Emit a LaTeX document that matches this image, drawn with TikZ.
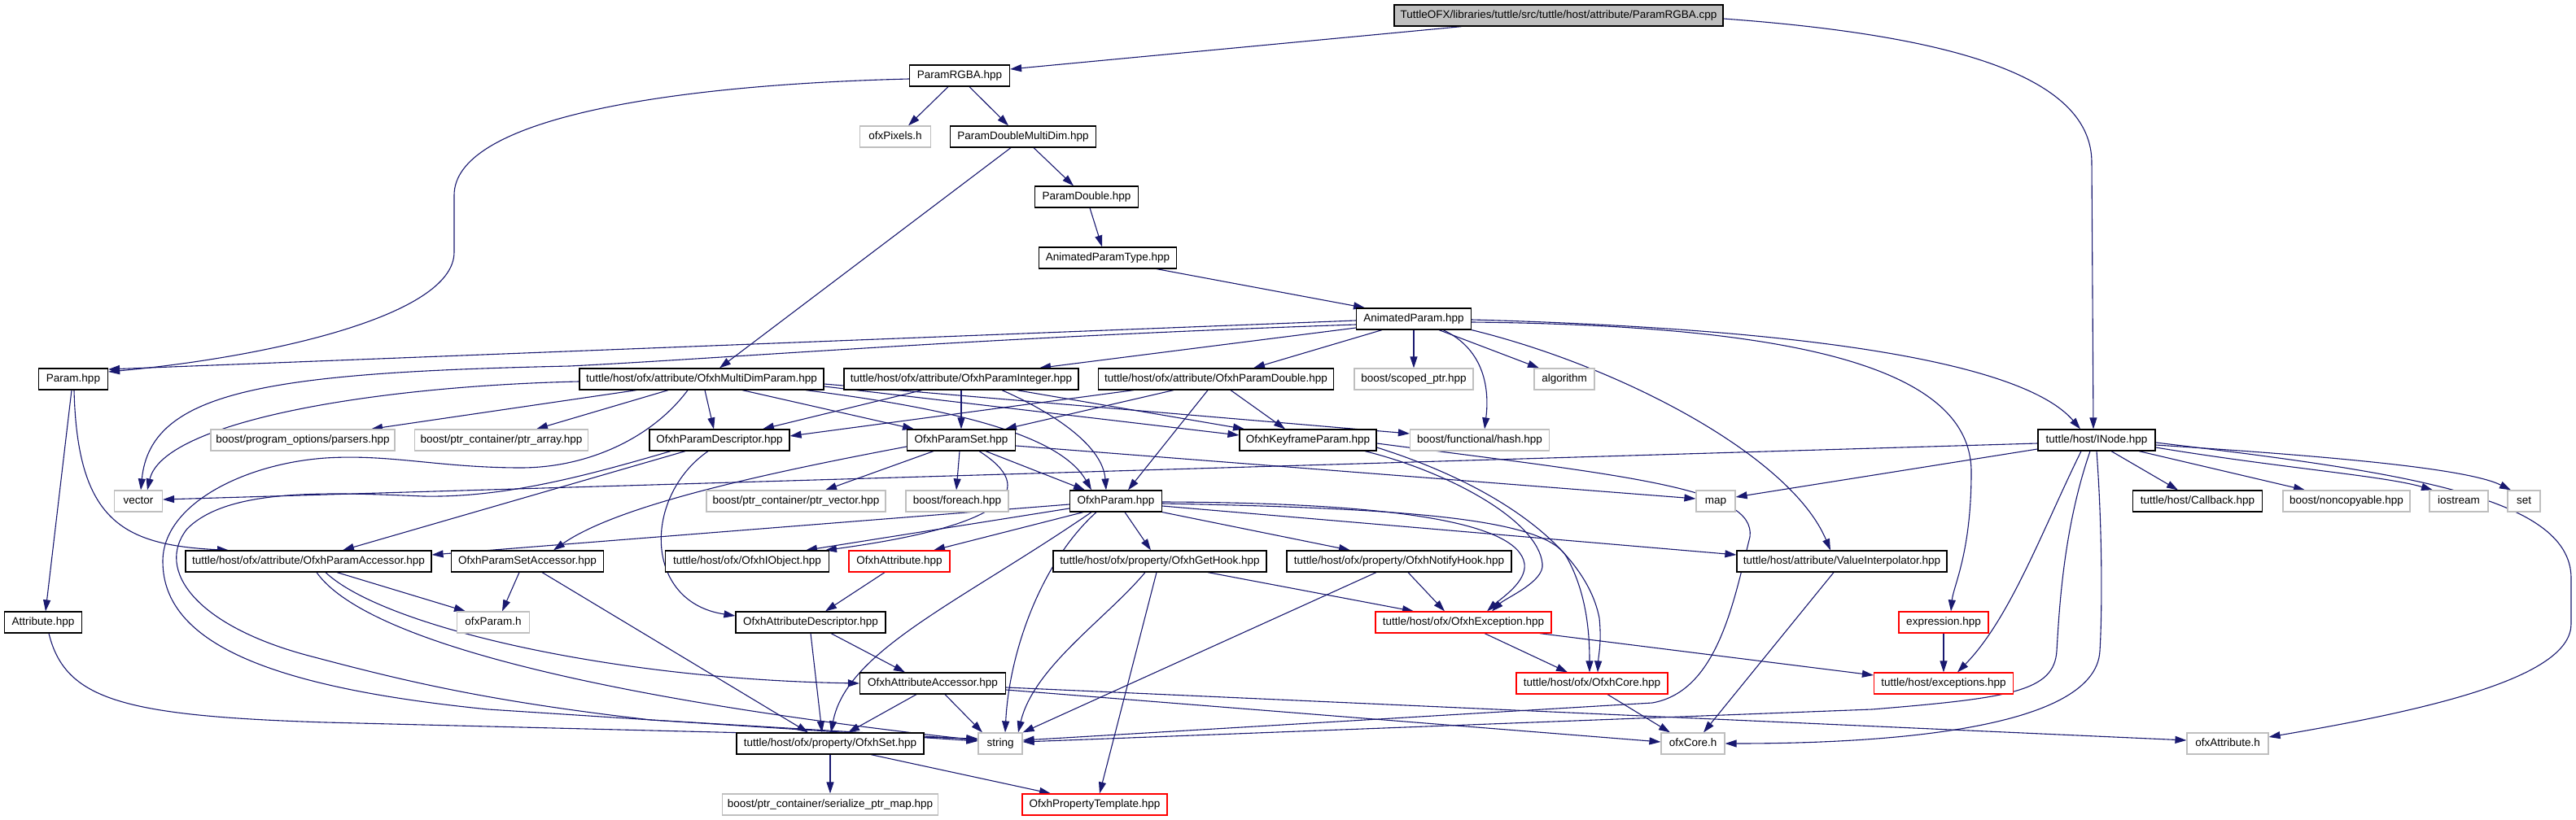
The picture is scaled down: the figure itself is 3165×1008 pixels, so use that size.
\documentclass[tikz,border=0pt]{standalone}
\usepackage{fontspec}
\setmainfont{Liberation Sans}
\usetikzlibrary{arrows.meta}
\definecolor{edgeblue}{HTML}{191970}
\definecolor{lgray}{HTML}{BFBFBF}
\definecolor{rootgray}{HTML}{BFBFBF}
\definecolor{rdc}{HTML}{FF0000}
\pgfdeclarelayer{bg}
\pgfsetlayers{bg,main}
\begin{document}
\begin{tikzpicture}[x=1pt,y=-1pt,
  nd/.style={rectangle, line width=1.2pt, fill=white, minimum height=26pt, inner sep=0pt, font=\fontsize{13.5}{16}\selectfont, text height=10pt, text depth=3pt},
  bk/.style={nd, draw=black},
  gr/.style={nd, draw=lgray},
  rd/.style={nd, draw=rdc},
  e/.style={draw=edgeblue, line width=1.1pt, -{Triangle[length=14pt,width=9pt]}}]
\useasboundingbox (0,0) rectangle (3165,1008);
% nodes
\node[bk,fill=rootgray,minimum width=404pt] (root) at (1915,19) {TuttleOFX/libraries/tuttle/src/tuttle/host/attribute/ParamRGBA.cpp};
\node[bk,minimum width=123pt] (prgba) at (1179,93) {ParamRGBA.hpp};
\node[gr,minimum width=87pt] (pixels) at (1100,168) {ofxPixels.h};
\node[bk,minimum width=179pt] (pdmd) at (1257,168) {ParamDoubleMultiDim.hpp};
\node[bk,minimum width=127pt] (pdbl) at (1335,242) {ParamDouble.hpp};
\node[bk,minimum width=169pt] (apt) at (1361,317) {AnimatedParamType.hpp};
\node[bk,minimum width=141pt] (ap) at (1737,392) {AnimatedParam.hpp};
\node[bk,minimum width=85pt] (param) at (90,466) {Param.hpp};
\node[bk,minimum width=300pt] (mdp) at (862,466) {tuttle/host/ofx/attribute/OfxhMultiDimParam.hpp};
\node[bk,minimum width=288pt] (pint) at (1181,466) {tuttle/host/ofx/attribute/OfxhParamInteger.hpp};
\node[bk,minimum width=289pt] (pdblx) at (1494,466) {tuttle/host/ofx/attribute/OfxhParamDouble.hpp};
\node[gr,minimum width=146pt] (scoped) at (1737,466) {boost/scoped\_ptr.hpp};
\node[gr,minimum width=74pt] (algo) at (1922,466) {algorithm};
\node[gr,minimum width=226pt] (parsers) at (372,541) {boost/program\_options/parsers.hpp};
\node[gr,minimum width=213pt] (ptrarr) at (616,541) {boost/ptr\_container/ptr\_array.hpp};
\node[bk,minimum width=172pt] (pdesc) at (884,541) {OfxhParamDescriptor.hpp};
\node[bk,minimum width=133pt] (pset) at (1181,541) {OfxhParamSet.hpp};
\node[bk,minimum width=168pt] (kf) at (1607,541) {OfxhKeyframeParam.hpp};
\node[gr,minimum width=171pt] (hash) at (1818,541) {boost/functional/hash.hpp};
\node[bk,minimum width=144pt] (inode) at (2576,541) {tuttle/host/INode.hpp};
\node[gr,minimum width=59pt] (vector) at (170,616) {vector};
\node[gr,minimum width=220pt] (ptrvec) at (978,616) {boost/ptr\_container/ptr\_vector.hpp};
\node[gr,minimum width=126pt] (foreach) at (1176,616) {boost/foreach.hpp};
\node[bk,minimum width=113pt] (oparam) at (1371,616) {OfxhParam.hpp};
\node[gr,minimum width=48pt] (map) at (2108,616) {map};
\node[bk,minimum width=159pt] (callback) at (2700,616) {tuttle/host/Callback.hpp};
\node[gr,minimum width=156pt] (noncopy) at (2883,616) {boost/noncopyable.hpp};
\node[gr,minimum width=72pt] (iostream) at (3021,616) {iostream};
\node[gr,minimum width=40pt] (set) at (3101,616) {set};
\node[bk,minimum width=302pt] (pacc) at (379,690) {tuttle/host/ofx/attribute/OfxhParamAccessor.hpp};
\node[bk,minimum width=187pt] (psacc) at (648,690) {OfxhParamSetAccessor.hpp};
\node[bk,minimum width=201pt] (iobj) at (918,690) {tuttle/host/ofx/OfxhIObject.hpp};
\node[rd,minimum width=124pt] (attr) at (1105,690) {OfxhAttribute.hpp};
\node[bk,minimum width=262pt] (gethook) at (1425,690) {tuttle/host/ofx/property/OfxhGetHook.hpp};
\node[bk,minimum width=276pt] (notify) at (1719,690) {tuttle/host/ofx/property/OfxhNotifyHook.hpp};
\node[bk,minimum width=258pt] (vinterp) at (2263,690) {tuttle/host/attribute/ValueInterpolator.hpp};
\node[bk,minimum width=95pt] (attribute) at (53,765) {Attribute.hpp};
\node[gr,minimum width=89pt] (ofxparam) at (606,765) {ofxParam.h};
\node[bk,minimum width=184pt] (adesc) at (996,765) {OfxhAttributeDescriptor.hpp};
\node[rd,minimum width=216pt] (exc) at (1798,765) {tuttle/host/ofx/OfxhException.hpp};
\node[rd,minimum width=110pt] (expr) at (2388,765) {expression.hpp};
\node[bk,minimum width=179pt] (aacc) at (1146,840) {OfxhAttributeAccessor.hpp};
\node[rd,minimum width=186pt] (core) at (1956,840) {tuttle/host/ofx/OfxhCore.hpp};
\node[rd,minimum width=171pt] (exceptions) at (2388,840) {tuttle/host/exceptions.hpp};
\node[bk,minimum width=230pt] (oset) at (1020,914) {tuttle/host/ofx/property/OfxhSet.hpp};
\node[gr,minimum width=54pt] (string) at (1229,914) {string};
\node[gr,minimum width=78pt] (ofxcore) at (2080,914) {ofxCore.h};
\node[gr,minimum width=100pt] (ofxattr) at (2737,914) {ofxAttribute.h};
\node[gr,minimum width=265pt] (serial) at (1020,989) {boost/ptr\_container/serialize\_ptr\_map.hpp};
\node[rd,minimum width=178pt] (ptempl) at (1345,989) {OfxhPropertyTemplate.hpp};
\begin{pgfonlayer}{bg}
\fill[white] (0,0) rectangle (3165,1008);
% root
\draw[e] ([xshift=-119pt]root.south) -- ([yshift=8pt]prgba.east);
\draw[e] ([yshift=-4pt]root.east) .. controls (2420,45) and (2570,100) .. (2570,200) -- ([xshift=-4pt]inode.north);
% ParamRGBA
\draw[e] ([xshift=-14pt]prgba.south) -- ([xshift=16pt]pixels.north);
\draw[e] ([xshift=12pt]prgba.south) -- ([xshift=-18pt]pdmd.north);
\draw[e] ([yshift=-4pt]prgba.west) .. controls (800,105) and (558,150) .. (558,240) -- (558,310) .. controls (558,390) and (320,440) .. ([yshift=9pt]param.east);
% ParamDoubleMultiDim, ParamDouble, AnimatedParamType
\draw[e] ([xshift=13pt]pdmd.south) -- ([xshift=-16pt]pdbl.north);
\draw[e] ([xshift=-15pt]pdmd.south) -- ([xshift=22pt]mdp.north);
\draw[e] ([xshift=4pt]pdbl.south) -- ([xshift=-7pt]apt.north);
\draw[e] ([xshift=60pt]apt.south) -- ([xshift=-60pt]ap.north);
% AnimatedParam
\draw[e] ([yshift=-2pt]ap.west) -- ([yshift=12pt]param.east);
\draw[e] ([yshift=-7pt]ap.west) .. controls (1200,415) and (900,440) .. (700,450) .. controls (330,458) and (185,480) .. ([xshift=3pt]vector.north);
\draw[e] ([yshift=-11pt]ap.west) -- ([xshift=96pt]pint.north);
\draw[e] ([xshift=-39pt]ap.south) -- ([xshift=46pt]pdblx.north);
\draw[e] (ap.south) -- (scoped.north);
\draw[e] ([xshift=31pt]ap.south) -- ([xshift=-31pt]algo.north);
\draw[e] ([xshift=36pt]ap.south) .. controls (1825,430) and (1830,480) .. ([xshift=6pt]hash.north);
\draw[e] ([yshift=-1pt]ap.east) .. controls (2250,405) and (2490,450) .. ([xshift=-20pt]inode.north);
\draw[e] ([yshift=-4pt]ap.east) .. controls (2200,400) and (2422,450) .. (2422,580) .. controls (2422,680) and (2400,720) .. ([xshift=9pt]expr.north);
\draw[e] (ap.south east) .. controls (1990,450) and (2200,560) .. ([xshift=-14pt]vinterp.north);
% Param
\draw[e] ([xshift=-2pt]param.south) -- ([xshift=3pt]attribute.north);
\draw[e] ([xshift=1pt]param.south) .. controls (95,640) and (150,670) .. ([xshift=-98pt]pacc.north);
% OfxhMultiDimParam
\draw[e] ([yshift=-3pt]mdp.west) .. controls (450,475) and (200,520) .. ([xshift=11pt]vector.north);
\draw[e] ([xshift=-80pt]mdp.south) -- ([xshift=84pt]parsers.north);
\draw[e] ([xshift=-41pt]mdp.south) -- ([xshift=43pt]ptrarr.north);
\draw[e] ([xshift=4pt]mdp.south) -- ([xshift=-7pt]pdesc.north);
\draw[e] ([xshift=50pt]mdp.south) -- ([xshift=-58pt]pset.north);
\draw[e] ([yshift=-9pt]mdp.east) -- ([yshift=6pt]kf.west);
\draw[e] ([yshift=-6pt]mdp.east) -- ([yshift=8pt]hash.west);
\draw[e] ([xshift=128pt]mdp.south) .. controls (1150,500) and (1300,530) .. ([xshift=-30pt]oparam.north);
\draw[e] ([xshift=-17pt]mdp.south) .. controls (800,540) and (720,575) .. (640,575) .. controls (540,575) and (480,558) .. (400,563) .. controls (300,570) and (200,620) .. (200,690) .. controls (200,790) and (330,845) .. (600,872) -- ([yshift=3pt]string.west);
% OfxhParamInteger
\draw[e] ([xshift=-48pt]pint.south) -- ([xshift=53pt]pdesc.north);
\draw[e] (pint.south) -- (pset.north);
\draw[e] ([xshift=50pt]pint.south) .. controls (1300,510) and (1355,550) .. ([xshift=-12pt]oparam.north);
\draw[e] ([xshift=68pt]pint.south) -- ([xshift=-78pt]kf.north);
% OfxhParamDouble
\draw[e] ([xshift=-101pt]pdblx.south) -- ([yshift=5pt]pdesc.east);
\draw[e] ([xshift=-52pt]pdblx.south) -- ([xshift=54pt]pset.north);
\draw[e] ([xshift=-10pt]pdblx.south) -- ([xshift=15pt]oparam.north);
\draw[e] ([xshift=18pt]pdblx.south) -- ([xshift=-28pt]kf.north);
% OfxhParamDescriptor
\draw[e] ([xshift=-42pt]pdesc.south) -- ([xshift=42pt]pacc.north);
\draw[e] ([xshift=-14pt]pdesc.south) .. controls (790,610) and (790,740) .. ([yshift=8pt]adesc.west);
\draw[e] ([xshift=-60pt]pdesc.south) .. controls (720,585) and (620,612) .. (520,610) .. controls (400,605) and (280,600) .. (230,650) .. controls (190,700) and (240,770) .. (383,807) .. controls (500,838) and (600,862) .. (800,885) -- ([yshift=5pt]string.west);
% OfxhParamSet
\draw[e] ([yshift=-8pt]pset.west) .. controls (950,580) and (760,620) .. ([xshift=32pt]psacc.north);
\draw[e] ([xshift=-34pt]pset.south) -- ([xshift=36pt]ptrvec.north);
\draw[e] ([xshift=-2pt]pset.south) -- ([xshift=-1pt]foreach.north);
\draw[e] ([xshift=30pt]pset.south) -- ([xshift=-38pt]oparam.north);
\draw[e] ([yshift=-7pt]pset.east) -- ([yshift=3pt]map.west);
\draw[e] ([xshift=22pt]pset.south) .. controls (1275,600) and (1245,645) .. ([xshift=96pt]iobj.north);
% OfxhKeyframeParam
\draw[e] ([xshift=70pt]kf.south) .. controls (1780,580) and (1890,640) .. (1895,693) .. controls (1898,715) and (1850,735) .. ([xshift=35pt]exc.north);
\draw[e] ([yshift=-9pt]kf.east) .. controls (1850,600) and (1950,680) .. (1965,760) .. controls (1968,790) and (1964,805) .. ([xshift=7pt]core.north);
\draw[e] ([yshift=-4pt]kf.east) .. controls (2000,585) and (2158,600) .. (2150,660) .. controls (2130,740) and (2110,850) .. (2030,864) -- ([yshift=4pt]string.east);
% OfxhParam
\draw[e] ([yshift=-4pt]oparam.west) -- ([yshift=8pt]pacc.east);
\draw[e] ([yshift=-9pt]oparam.west) -- ([xshift=72pt]iobj.north);
\draw[e] ([xshift=-40pt]oparam.south) -- ([xshift=42pt]attr.north);
\draw[e] ([xshift=11pt]oparam.south) -- ([xshift=-11pt]gethook.north);
\draw[e] (oparam.south east) -- ([xshift=-60pt]notify.north);
\draw[e] ([yshift=-6pt]oparam.east) -- ([yshift=8pt]vinterp.west);
\draw[e] ([yshift=-1pt]oparam.east) .. controls (1700,618) and (1865,640) .. (1873,693) .. controls (1876,715) and (1845,735) .. ([xshift=29pt]exc.north);
\draw[e] ([yshift=-3pt]oparam.east) .. controls (1750,625) and (1900,640) .. (1925,685) .. controls (1950,730) and (1953,780) .. ([xshift=-3pt]core.north);
\draw[e] ([xshift=-24pt]oparam.south) .. controls (1280,690) and (1240,800) .. ([xshift=6pt]string.north);
\draw[e] ([xshift=-30pt]oparam.south) .. controls (1180,740) and (1040,800) .. ([xshift=1pt]oset.north);
% INode
\draw[e] ([yshift=-4pt]inode.west) -- ([yshift=2pt]vector.east);
\draw[e] ([yshift=-11pt]inode.west) -- ([yshift=5pt]map.east);
\draw[e] ([xshift=18pt]inode.south) -- ([xshift=-24pt]callback.north);
\draw[e] ([xshift=52pt]inode.south) -- ([xshift=-51pt]noncopy.north);
\draw[e] ([yshift=-9pt]inode.east) .. controls (2800,575) and (2930,585) .. ([xshift=-32pt]iostream.north);
\draw[e] ([yshift=-6pt]inode.east) .. controls (2850,560) and (3030,575) .. ([xshift=-16pt]set.north);
\draw[e] ([yshift=-3pt]inode.east) .. controls (2950,580) and (3158,610) .. (3159,710) -- (3159,767) .. controls (3159,830) and (3000,870) .. ([yshift=8pt]ofxattr.east);
\draw[e] ([xshift=-19pt]inode.south) .. controls (2510,650) and (2470,760) .. ([xshift=17pt]exceptions.north);
\draw[e] ([xshift=-8pt]inode.south) .. controls (2535,650) and (2530,750) .. (2527,800) .. controls (2524,850) and (2470,858) .. (2300,872) -- ([yshift=2pt]string.east);
\draw[e] (inode.south) .. controls (2583,650) and (2583,750) .. (2580,800) .. controls (2575,900) and (2300,914) .. (ofxcore.east);
% ValueInterpolator, expression, OfxhException, OfxhCore
\draw[e] ([xshift=-10pt]vinterp.south) -- ([xshift=13pt]ofxcore.north);
\draw[e] (expr.south) -- (exceptions.north);
\draw[e] ([xshift=26pt]exc.south) -- ([xshift=-30pt]core.north);
\draw[e] ([xshift=-15pt]exc.south east) -- ([yshift=10pt]exceptions.west);
\draw[e] ([xshift=19pt]core.south) -- ([xshift=-28pt]ofxcore.north);
% hooks
\draw[e] ([xshift=-18pt]gethook.south) .. controls (1360,760) and (1270,820) .. ([xshift=22pt]string.north);
\draw[e] ([xshift=-4pt]gethook.south) -- ([xshift=6pt]ptempl.north);
\draw[e] ([xshift=59pt]gethook.south) -- ([xshift=-61pt]exc.north);
\draw[e] ([xshift=-28pt]notify.south) -- (string.north east);
\draw[e] ([xshift=11pt]notify.south) -- ([xshift=-23pt]exc.north);
% attribute accessors / descriptors
\draw[e] ([xshift=15pt]aacc.south) -- ([xshift=-22pt]string.north);
\draw[e] ([xshift=-20pt]aacc.south) -- ([xshift=22pt]oset.north);
\draw[e] ([yshift=-8pt]aacc.east) -- ([yshift=2pt]ofxcore.west);
\draw[e] ([yshift=-5pt]aacc.east) -- ([yshift=4pt]ofxattr.west);
\draw[e] ([xshift=25pt]adesc.south) -- ([xshift=-34pt]aacc.north);
\draw[e] (adesc.south) -- ([xshift=-10pt]oset.north);
\draw[e] ([xshift=-18pt]attr.south) -- ([xshift=18pt]adesc.north);
% ParamAccessor, ParamSetAccessor, Attribute
\draw[e] ([xshift=35pt]pacc.south) -- ([xshift=-34pt]ofxparam.north);
\draw[e] ([xshift=21pt]pacc.south) .. controls (470,770) and (750,835) .. (aacc.west);
\draw[e] ([xshift=10pt]pacc.south) .. controls (450,790) and (750,860) .. ([yshift=4pt]string.west);
\draw[e] ([xshift=-10pt]psacc.south) -- ([xshift=11pt]ofxparam.north);
\draw[e] ([xshift=18pt]psacc.south) -- ([xshift=-27pt]oset.north);
\draw[e] ([xshift=7pt]attribute.south) .. controls (80,860) and (150,880) .. (400,888) -- ([yshift=6pt]string.west);
% OfxhSet
\draw[e] (oset.south) -- (serial.north);
\draw[e] ([xshift=50pt]oset.south) -- ([xshift=-54pt]ptempl.north);
\end{pgfonlayer}
\end{tikzpicture}
\end{document}
